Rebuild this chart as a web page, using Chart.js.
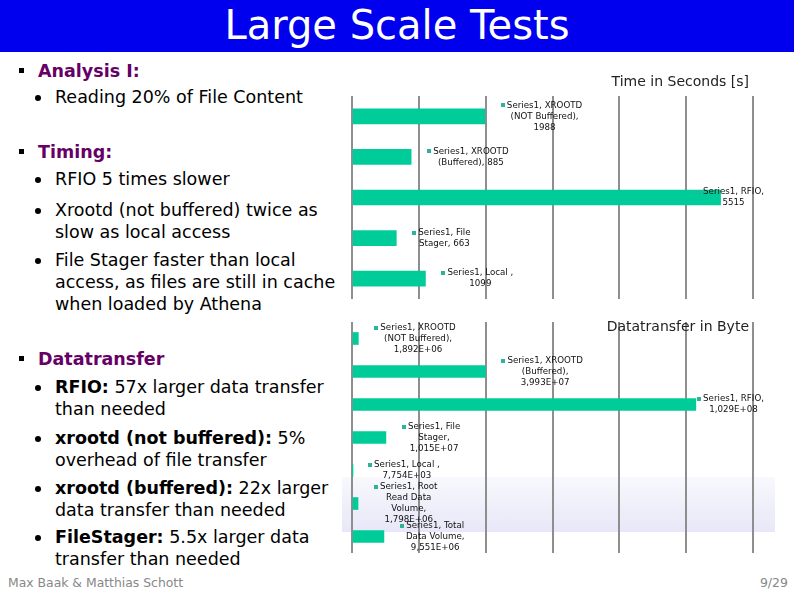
<!DOCTYPE html>
<html>
<head>
<meta charset="utf-8">
<title>Large Scale Tests</title>
<script src="https://cdn.jsdelivr.net/npm/chart.js@4/dist/chart.umd.min.js"></script>
<style>
  body { margin: 0; width: 794px; height: 595px; position: relative; overflow: hidden; background: #fff; font-family: "DejaVu Sans", sans-serif; }
  #titlebar { position: absolute; left: 0; top: 0; width: 794px; height: 52px; background: #0000ee; color: #fff; font-size: 40px; line-height: 51px; text-align: center; }
  .t { position: absolute; white-space: nowrap; font-size: 17.5px; line-height: 22px; color: #000; }
  .h { left: 38px; color: #660066; font-weight: bold; }
  .b { left: 55px; }
  .h:before { content: ""; position: absolute; left: -19px; top: 8px; width: 5px; height: 5px; background: #000; }
  .b:before { content: ""; position: absolute; left: -20px; top: 9px; width: 6px; height: 6px; border-radius: 50%; background: #000; }
  .chart { position: absolute; left: 340px; width: 440px; }
  .ctitle { position: absolute; right: 45px; font-size: 14px; color: #222; white-space: nowrap; }
  #band { position: absolute; left: 342px; top: 477px; width: 433px; height: 55px; background: linear-gradient(#f8f8fd, #e7e7f8); }
  #footer { position: absolute; left: 8px; top: 575px; font-size: 12.4px; color: #888; }
  #page { position: absolute; right: 6px; top: 575px; font-size: 12.5px; color: #888; }
</style>
</head>
<body>
<div id="titlebar">Large Scale Tests</div>

<div class="t h" style="top:59.5px">Analysis I:</div>
<div class="t b" style="top:85.8px">Reading 20% of File Content</div>

<div class="t h" style="top:141.3px">Timing:</div>
<div class="t b" style="top:168.3px">RFIO 5 times slower</div>
<div class="t b" style="top:198.5px">Xrootd (not buffered) twice as<br>slow as local access</div>
<div class="t b" style="top:248.8px">File Stager faster than local<br>access, as files are still in cache<br>when loaded by Athena</div>

<div class="t h" style="top:347.8px">Datatransfer</div>
<div class="t b" style="top:376.1px"><b>RFIO:</b> 57x larger data transfer<br>than needed</div>
<div class="t b" style="top:426.8px"><b>xrootd (not buffered):</b> 5%<br>overhead of file transfer</div>
<div class="t b" style="top:477.3px"><b>xrootd (buffered):</b> 22x larger<br>data transfer than needed</div>
<div class="t b" style="top:526.3px"><b>FileStager:</b> 5.5x larger data<br>transfer than needed</div>

<div id="band"></div>
<div class="chart" style="top:60px;height:250px"><canvas id="timeChart" width="440" height="250"></canvas></div>
<div class="chart" style="top:310px;height:260px"><canvas id="byteChart" width="440" height="260"></canvas></div>
<div class="ctitle" style="top:73px">Time in Seconds [s]</div>
<div class="ctitle" style="top:318px">Datatransfer in Byte</div>

<div id="footer">Max Baak &amp; Matthias Schott</div>
<div id="page">9/29</div>

<script>
// timing (seconds)
const timeCategories = ["XROOTD (NOT Buffered)", "XROOTD (Buffered)", "RFIO", "File Stager", "Local "];
const timeValues = [1988, 885, 5515, 663, 1099];

// data transfer (bytes)
const byteCategories = ["XROOTD (NOT Buffered)", "XROOTD (Buffered)", "RFIO", "File Stager", "Local ", "Root Read Data Volume", "Total Data Volume"];
const byteValues = [1892000, 39930000, 102900000, 10150000, 7754, 1798000, 9551000];

const seriesName = "Series1";
const barColor = "#00cc99";

function plainNumber(v) {
  return String(v);
}

// excel style, german decimal comma: 1,892E+06
function sciNumber(v) {
  const e = Math.floor(Math.log10(v));
  const m = v / Math.pow(10, e);
  return m.toFixed(3).replace(".", ",") + "E+" + String(e).padStart(2, "0");
}

function wrapText(ctx, text, maxWidth) {
  const words = text.split(" ");
  const lines = [];
  let line = "";
  words.forEach((w) => {
    const test = line ? line + " " + w : w;
    if (line && ctx.measureText(test).width > maxWidth) {
      lines.push(line);
      line = w;
    } else {
      line = test;
    }
  });
  if (line) lines.push(line);
  return lines;
}

// data labels like excel: small key square + "Series, Category, Value"
const barLabels = {
  id: "barLabels",
  afterDatasetsDraw(chart, args, opts) {
    const ctx = chart.ctx;
    const meta = chart.getDatasetMeta(0);
    const values = chart.data.datasets[0].data;
    ctx.save();
    ctx.font = '8.7px "DejaVu Sans"';
    ctx.textAlign = "center";
    ctx.textBaseline = "middle";
    meta.data.forEach((bar, i) => {
      const text = seriesName + ", " + chart.data.labels[i] + ", " + opts.format(values[i]);
      const lines = wrapText(ctx, text, opts.wrapWidth);
      const widths = lines.map((l) => ctx.measureText(l).width);
      const w = Math.max(...widths);
      let left = bar.x + 22;
      if (left + w > opts.maxRight) left = opts.maxRight - w;
      const cx = left + w / 2;
      const lh = 11;
      const top = bar.y - ((lines.length - 1) * lh) / 2;
      ctx.fillStyle = "#2bb596";
      ctx.fillRect(Math.round(cx - widths[0] / 2 - 6), Math.round(top - 2), 4, 4);
      ctx.fillStyle = "#111";
      lines.forEach((l, k) => ctx.fillText(l, cx, top + k * lh));
    });
    ctx.restore();
  },
};

function makeChart(id, labels, values, xMax, step, thickness, format, padding) {
  return new Chart(document.getElementById(id), {
    type: "bar",
    data: {
      labels: labels,
      datasets: [{ label: seriesName, data: values, backgroundColor: barColor, barThickness: thickness }],
    },
    options: {
      indexAxis: "y",
      responsive: false,
      animation: false,
      layout: { padding: padding },
      plugins: {
        legend: { display: false },
        tooltip: { enabled: false },
        barLabels: { format: format, wrapWidth: 80, maxRight: 424 },
      },
      scales: {
        x: {
          min: 0,
          max: xMax,
          ticks: { display: false, stepSize: step },
          grid: { color: "#8e8e8e", lineWidth: 2, drawTicks: false },
          border: { display: false },
        },
        y: { display: false },
      },
    },
    plugins: [barLabels],
  });
}

makeChart("timeChart", timeCategories, timeValues, 6000, 1000, 15, plainNumber,
  { left: 12, right: 27, top: 36, bottom: 11 });
makeChart("byteChart", byteCategories, byteValues, 120000000, 20000000, 12, sciNumber,
  { left: 12, right: 27, top: 12, bottom: 17 });
</script>
</body>
</html>
